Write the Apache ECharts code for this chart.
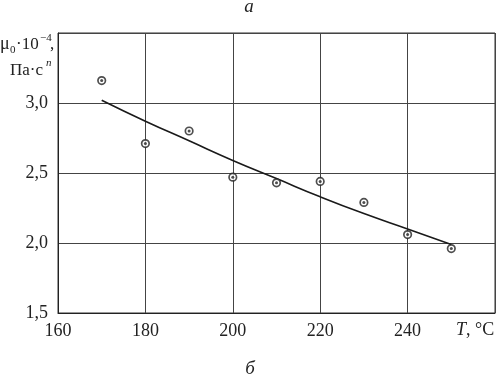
<!DOCTYPE html>
<html>
<head>
<meta charset="utf-8">
<script src="https://cdn.jsdelivr.net/npm/echarts@6/dist/echarts.min.js"></script>
<style>
html,body{margin:0;padding:0;background:#fff;}
#c{width:499px;height:378px;}
</style>
</head>
<body>
<div id="c"></div>
<script>
// Data
var temps = [170, 180, 190, 200, 210, 220, 230, 240, 250];
var viscosity = [3.16, 2.71, 2.80, 2.47, 2.43, 2.44, 2.29, 2.06, 1.96];
var fitTemps = [170, 180, 190, 200, 210, 220, 230, 240, 250];
var fitValues = [3.02, 2.87, 2.73, 2.59, 2.46, 2.33, 2.21, 2.10, 1.99];
var xTickLabels = ['160', '180', '200', '220', '240'];
var yTickLabels = ['1,5', '2,0', '2,5', '3,0'];

var serif = '"Liberation Serif", "DejaVu Serif", serif';
var chart = echarts.init(document.getElementById('c'), null, {renderer: 'canvas'});

function pairs(xs, ys) { return xs.map(function (x, i) { return [x, ys[i]]; }); }

var option = {
  animation: false,
  backgroundColor: '#fff',
  grid: {left: 58, top: 33, right: 4, bottom: 65, show: true, borderColor: '#333', borderWidth: 1},
  xAxis: {
    type: 'value', min: 160, max: 260, interval: 20,
    axisLine: {show: true, lineStyle: {color: '#222', width: 1}},
    axisTick: {show: false},
    splitLine: {show: true, lineStyle: {color: '#444', width: 1}},
    axisLabel: {
      color: '#222', fontFamily: serif, fontSize: 18, margin: 9,
      formatter: function (v) { var s = String(v); return xTickLabels.indexOf(s) >= 0 ? s : ''; }
    }
  },
  yAxis: {
    type: 'value', min: 1.5, max: 3.5, interval: 0.5,
    axisLine: {show: true, lineStyle: {color: '#222', width: 1}},
    axisTick: {show: false},
    splitLine: {show: true, lineStyle: {color: '#444', width: 1}},
    axisLabel: {
      color: '#222', fontFamily: serif, fontSize: 18, margin: 10,
      formatter: function (v) { var s = v.toFixed(1).replace('.', ','); return yTickLabels.indexOf(s) >= 0 ? s : ''; }
    }
  },
  series: [
    {
      type: 'line', data: pairs(fitTemps, fitValues), smooth: true, showSymbol: false,
      lineStyle: {color: '#1a1a1a', width: 1.6}, z: 2
    },
    {
      type: 'scatter', data: pairs(temps, viscosity), symbol: 'circle', symbolSize: 7.5,
      itemStyle: {color: '#fff', borderColor: '#222', borderWidth: 1.7}, z: 3
    },
    {
      type: 'scatter', data: pairs(temps, viscosity), symbol: 'circle', symbolSize: 3,
      itemStyle: {color: '#222'}, z: 4
    }
  ],
  graphic: [
    {type: 'text', style: {text: 'а', x: 249, y: 7, font: 'italic 19px ' + serif, textAlign: 'center', textVerticalAlign: 'middle', fill: '#222'}},
    {type: 'text', style: {text: 'б', x: 250, y: 369, font: 'italic 19px ' + serif, textAlign: 'center', textVerticalAlign: 'middle', fill: '#222'}},
    {type: 'text', style: {text: 'T', x: 456, y: 330, font: 'italic 18px ' + serif, textAlign: 'left', textVerticalAlign: 'middle', fill: '#222'}},
    {type: 'text', style: {text: ', °C', x: 466, y: 330, font: '18px ' + serif, textAlign: 'left', textVerticalAlign: 'middle', fill: '#222'}},
    // y-axis name: μ0·10^-4,
    {type: 'text', style: {text: 'μ', x: 0, y: 53, font: '18px ' + serif, textAlign: 'left', textVerticalAlign: 'bottom', fill: '#222'}},
    {type: 'text', style: {text: '0', x: 10, y: 56, font: '11px ' + serif, textAlign: 'left', textVerticalAlign: 'bottom', fill: '#222'}},
    {type: 'text', style: {text: '·10', x: 16, y: 53, font: '17px ' + serif, textAlign: 'left', textVerticalAlign: 'bottom', fill: '#222'}},
    {type: 'text', style: {text: '−4', x: 40, y: 44, font: '11px ' + serif, textAlign: 'left', textVerticalAlign: 'bottom', fill: '#222'}},
    {type: 'text', style: {text: ',', x: 50, y: 53, font: '17px ' + serif, textAlign: 'left', textVerticalAlign: 'bottom', fill: '#222'}},
    // Па·с^n
    {type: 'text', style: {text: 'Па·с', x: 10, y: 79, font: '17px ' + serif, textAlign: 'left', textVerticalAlign: 'bottom', fill: '#222'}},
    {type: 'text', style: {text: 'n', x: 46, y: 69, font: 'italic 11px ' + serif, textAlign: 'left', textVerticalAlign: 'bottom', fill: '#222'}}
  ]
};
chart.setOption(option);
</script>
</body>
</html>
